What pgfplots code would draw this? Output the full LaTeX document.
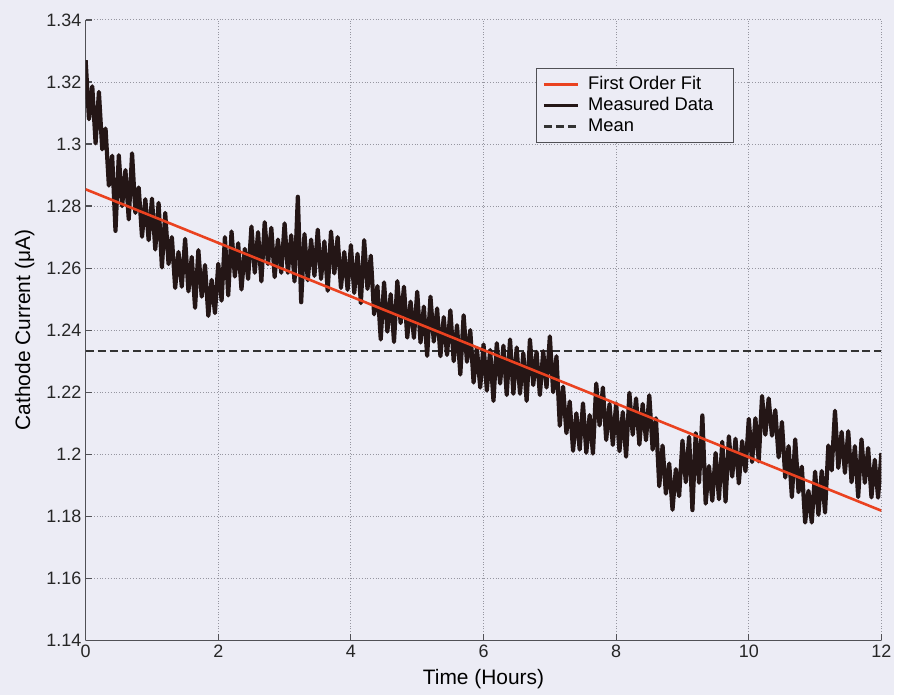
\documentclass[border=0pt]{standalone}
\usepackage{pgfplots}
\pgfplotsset{compat=1.18}
\usepackage{fontspec}
\setmainfont{Liberation Sans}
\definecolor{bgc}{RGB}{236,236,245}
\definecolor{fitred}{RGB}{234,66,32}
\definecolor{datablk}{RGB}{36,22,22}
\definecolor{gridc}{RGB}{150,150,160}
\definecolor{axc}{RGB}{80,80,85}
\begin{document}
\begin{tikzpicture}
\fill[bgc] (-43pt,-27.5pt) rectangle (406pt,321.5pt);
\begin{axis}[
  at={(0,0)}, anchor=south west,
  scale only axis,
  width=399.5pt, height=311.5pt,
  xmin=0, xmax=12, ymin=1.14, ymax=1.34,
  xtick={0,2,4,6,8,10,12},
  ytick={1.14,1.16,1.18,1.2,1.22,1.24,1.26,1.28,1.3,1.32,1.34},
  yticklabels={1.14,1.16,1.18,1.2,1.22,1.24,1.26,1.28,1.3,1.32,1.34},
  axis x line*=bottom, axis y line*=left,
  axis line style={-, draw=axc, line width=0.7pt},
  tick align=inside, major tick length=3pt,
  tick style={draw=axc, line width=0.6pt},
  grid=major,
  major grid style={densely dotted, draw=gridc, line width=0.45pt},
  /pgf/number format/assume math mode=true,
  ticklabel style={font=\fontsize{9}{10}\selectfont, text=black!85},
  yticklabel style={inner xsep=2pt},
  xticklabel style={inner ysep=2pt},
  xlabel={Time (Hours)},
  ylabel={Cathode Current (μA)},
  xlabel style={font=\fontsize{10.5}{12}\selectfont, at={(rel axis cs:0.5,0)}, anchor=north, inner sep=0pt, yshift=-14.5pt},
  ylabel style={font=\fontsize{10.5}{12}\selectfont, at={(axis description cs:-0.0638,0.5)}, anchor=south, inner sep=0pt},
  legend style={at={(rel axis cs:0.566,0.923)}, anchor=north west,
    draw=axc, fill=bgc, line width=0.6pt,
    font=\fontsize{9.2}{10.5}\selectfont, inner xsep=3pt, inner ysep=2pt, row sep=-1.5pt,
    /tikz/every odd column/.append style={column sep=2.5pt}},
  legend cell align=left,
]
\addlegendimage{fitred, line width=1.3pt}
\addlegendentry{First Order Fit}
\addlegendimage{datablk, line width=1.3pt}
\addlegendentry{Measured Data\hspace*{5pt}}
\addlegendimage{black!80, dash pattern=on 4pt off 2pt, line width=1.1pt}
\addlegendentry{Mean}

\addplot[forget plot, black!80, dash pattern=on 4pt off 2pt, line width=1.1pt] coordinates {(0,1.2334) (12,1.2334)};

\addplot[forget plot, datablk, line width=2.1pt, line join=round] coordinates {
(0.00,1.327) (0.05,1.308) (0.10,1.3186) (0.15,1.3002) (0.20,1.3168) (0.25,1.2983) (0.30,1.305) (0.35,1.2866) (0.40,1.2962) (0.45,1.272)
(0.50,1.2964) (0.55,1.280) (0.60,1.2916) (0.65,1.2757) (0.70,1.297) (0.75,1.2778) (0.80,1.286) (0.85,1.2701) (0.90,1.2822) (0.95,1.269)
(1.00,1.2824) (1.05,1.266) (1.10,1.281) (1.15,1.2602) (1.20,1.2778) (1.25,1.2613) (1.30,1.270) (1.35,1.2536) (1.40,1.2652) (1.45,1.254)
(1.50,1.2694) (1.55,1.2525) (1.60,1.2636) (1.65,1.2472) (1.70,1.2658) (1.75,1.2508) (1.80,1.261) (1.85,1.2446) (1.90,1.2562) (1.95,1.2455)
(2.00,1.2614) (2.05,1.2495) (2.10,1.270) (2.15,1.2512) (2.20,1.2718) (2.25,1.2573) (2.30,1.268) (2.35,1.2531) (2.40,1.2662) (2.45,1.2565)
(2.50,1.2734) (2.55,1.2585) (2.60,1.2716) (2.65,1.2557) (2.70,1.2748) (2.75,1.2613) (2.80,1.273) (2.85,1.2571) (2.90,1.2692) (2.95,1.2585)
(3.00,1.2744) (3.05,1.2585) (3.10,1.2706) (3.15,1.2557) (3.20,1.283) (3.25,1.249) (3.30,1.271) (3.35,1.2561) (3.40,1.2692) (3.45,1.2575)
(3.50,1.2724) (3.55,1.2565) (3.60,1.2686) (3.65,1.2527) (3.70,1.2718) (3.75,1.2583) (3.80,1.270) (3.85,1.2536) (3.90,1.2652) (3.95,1.253)
(4.00,1.2674) (4.05,1.252) (4.10,1.2646) (4.15,1.2487) (4.20,1.269) (4.25,1.2533) (4.30,1.264) (4.35,1.2451) (4.40,1.2542) (4.45,1.237)
(4.50,1.2554) (4.55,1.2395) (4.60,1.2516) (4.65,1.2362) (4.70,1.2558) (4.75,1.2423) (4.80,1.254) (4.85,1.2376) (4.90,1.2492) (4.95,1.2375)
(5.00,1.2524) (5.05,1.236) (5.10,1.2476) (5.15,1.2317) (5.20,1.2508) (5.25,1.2363) (5.30,1.247) (5.35,1.2316) (5.40,1.2442) (5.45,1.232)
(5.50,1.2464) (5.55,1.230) (5.60,1.2416) (5.65,1.2257) (5.70,1.2448) (5.75,1.2298) (5.80,1.240) (5.85,1.2231) (5.90,1.2342) (5.95,1.2215)
(6.00,1.2354) (6.05,1.2205) (6.10,1.2336) (6.15,1.2172) (6.20,1.2358) (6.25,1.2228) (6.30,1.235) (6.35,1.2191) (6.40,1.237) (6.45,1.2195)
(6.50,1.2344) (6.55,1.2195) (6.60,1.2326) (6.65,1.2172) (6.70,1.237) (6.75,1.2223) (6.80,1.233) (6.85,1.2191) (6.90,1.2332) (6.95,1.2215)
(7.00,1.238) (7.05,1.220) (7.10,1.2316) (7.15,1.2092) (7.20,1.2218) (7.25,1.2068) (7.30,1.217) (7.35,1.2011) (7.40,1.2132) (7.45,1.2015)
(7.50,1.2164) (7.55,1.2005) (7.60,1.2126) (7.65,1.2002) (7.70,1.2228) (7.75,1.2093) (7.80,1.2215) (7.85,1.2046) (7.90,1.2162) (7.95,1.203)
(8.00,1.2164) (8.05,1.201) (8.10,1.2136) (8.15,1.1992) (8.20,1.2198) (8.25,1.2063) (8.30,1.218) (8.35,1.2031) (8.40,1.2162) (8.45,1.2045)
(8.50,1.219) (8.55,1.2015) (8.60,1.2116) (8.65,1.1897) (8.70,1.2028) (8.75,1.1873) (8.80,1.197) (8.85,1.1821) (8.90,1.1952) (8.95,1.1865)
(9.00,1.2044) (9.05,1.191) (9.10,1.2056) (9.15,1.182) (9.20,1.2068) (9.25,1.1908) (9.30,1.2125) (9.35,1.1841) (9.40,1.1962) (9.45,1.185)
(9.50,1.2004) (9.55,1.1855) (9.60,1.204) (9.65,1.1847) (9.70,1.2058) (9.75,1.1928) (9.80,1.205) (9.85,1.1906) (9.90,1.2042) (9.95,1.1945)
(10.00,1.2114) (10.05,1.1975) (10.10,1.2116) (10.15,1.1977) (10.20,1.2188) (10.25,1.2063) (10.30,1.218) (10.35,1.206) (10.40,1.2142) (10.45,1.199)
(10.50,1.2104) (10.55,1.1925) (10.60,1.2026) (10.65,1.1862) (10.70,1.2048) (10.75,1.1878) (10.80,1.196) (10.85,1.178) (10.90,1.1882) (10.95,1.178)
(11.00,1.1944) (11.05,1.1805) (11.10,1.1946) (11.15,1.1812) (11.20,1.2028) (11.25,1.1948) (11.30,1.214) (11.35,1.1956) (11.40,1.2072) (11.45,1.194)
(11.50,1.2074) (11.55,1.191) (11.60,1.2026) (11.65,1.1862) (11.70,1.2048) (11.75,1.1908) (11.80,1.202) (11.85,1.1861) (11.90,1.1982) (11.95,1.186)
(12.00,1.2004)
};

\addplot[forget plot, fitred, line width=1.3pt] coordinates {(0,1.2854) (12,1.1818)};
\end{axis}
\end{tikzpicture}
\end{document}
